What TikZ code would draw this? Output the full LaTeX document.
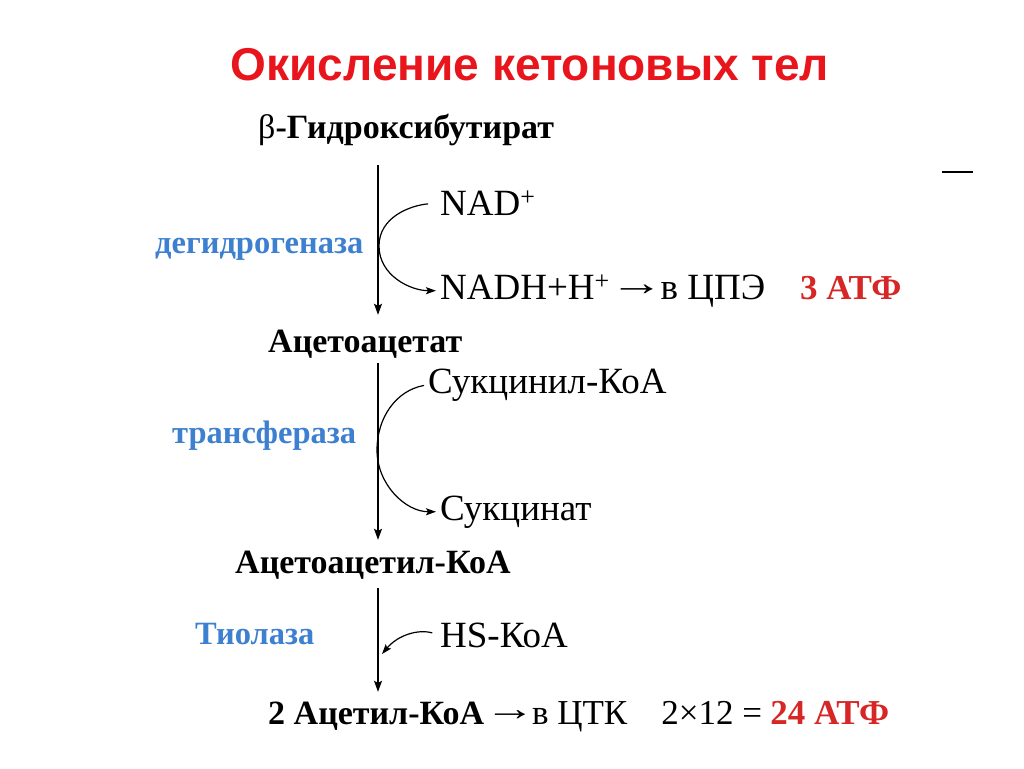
\documentclass[tikz,border=0pt]{standalone}
\usepackage{fontspec}
\setmainfont{Liberation Serif}
\newfontfamily\arialfont{Liberation Sans}
\usetikzlibrary{arrows.meta}
\definecolor{titlered}{RGB}{232,22,28}
\definecolor{atpred}{RGB}{214,38,38}
\definecolor{enzblue}{RGB}{62,128,208}
\newcommand{\longto}{\raisebox{4pt}{\scalebox{1.45}[1]{→}}\hspace{-12pt}}

\begin{document}
\begin{tikzpicture}[x=1pt,y=-1pt,
    compound/.style={font=\fontsize{34}{34}\selectfont\bfseries, inner sep=0pt,
      anchor=base west, text height=23pt, text depth=8pt},
    reagent/.style={font=\fontsize{37}{37}\selectfont, inner sep=0pt, anchor=base west},
    enzyme/.style={font=\fontsize{32.5}{32.5}\selectfont\bfseries, text=enzblue,
      inner sep=0pt, anchor=base west},
    atp/.style={font=\fontsize{35}{35}\selectfont\bfseries, text=atpred, inner sep=0pt, anchor=base west},
    flow/.style={line width=1.2pt, -{Stealth[length=11pt,width=8pt,inset=2pt]}},
    side/.style={line width=1.2pt, -{Stealth[length=10pt,width=7pt,inset=2pt]}}]
  \useasboundingbox (0,0) rectangle (1024,768);
  \node[font=\arialfont\fontsize{46}{46}\selectfont\bfseries, text=titlered, anchor=base, inner sep=0pt]
    (title) at (530,80) {Окисление кетоновых тел};
  \coordinate (axis) at (378,0);
  % compounds
  \node[compound] (hb) at (258,138) {{\mdseries β}-Гидроксибутират};
  \node[compound] (aa) at (268,352) {Ацетоацетат};
  \node[compound] (aacoa) at (235,573) {Ацетоацетил-КоА};
  \node[compound] (acoa) at (268,724) {2 Ацетил-КоА};
  \node[reagent, font=\fontsize{35}{35}\selectfont] (tca) at (acoa.base east)
    {\longto{} в ЦТК\hspace{34pt}2×12 =};
  \node[atp] (atp2) at ([xshift=8pt]tca.base east) {24 АТФ};
  % enzymes
  \node[enzyme] (deh) at (155,253) {дегидрогеназа};
  \node[enzyme] (trans) at (172,443) {трансфераза};
  \node[enzyme] (thio) at (195,644) {Тиолаза};
  % side reagents
  \node[reagent] (nad) at (440,215) {NAD\textsuperscript{+}};
  \node[reagent] (nadh) at (440,299) {NADH+H\textsuperscript{+}\longto{} в ЦПЭ};
  \node[atp] (atp1) at (800,299) {3 АТФ};
  \node[reagent] (sucoa) at (428,393) {Сукцинил-КоА};
  \node[reagent] (succ) at (440,520) {Сукцинат};
  \node[reagent] (hscoa) at (440,647) {HS-КоА};
  % main chain
  \draw[flow, shorten <=19pt, shorten >=14pt] (hb.south -| axis) -- (aa.north -| axis);
  \draw[flow, shorten <=3pt, shorten >=10pt] (aa.south -| axis) -- (aacoa.north -| axis);
  \draw[flow, shorten <=7pt, shorten >=9pt] (aacoa.south -| axis) -- (acoa.north -| axis);
  % side arrows
  \coordinate (k1) at (379,246);
  \coordinate (k2) at (377,450);
  \coordinate (k3) at (382,654);
  \draw[side, shorten <=12pt, shorten >=4pt] (nad.west) to[out=185,in=90] (k1) to[out=-90,in=180] (nadh.west);
  \draw[side, shorten <=4pt, shorten >=4pt] (sucoa.west) to[out=190,in=90] (k2) to[out=-90,in=180] (succ.west);
  \draw[side, shorten <=8pt] (hscoa.west) to[out=165,in=50] (k3);
  \draw[line width=1.5pt] (942,172) -- (973,172);
\end{tikzpicture}
\end{document}
